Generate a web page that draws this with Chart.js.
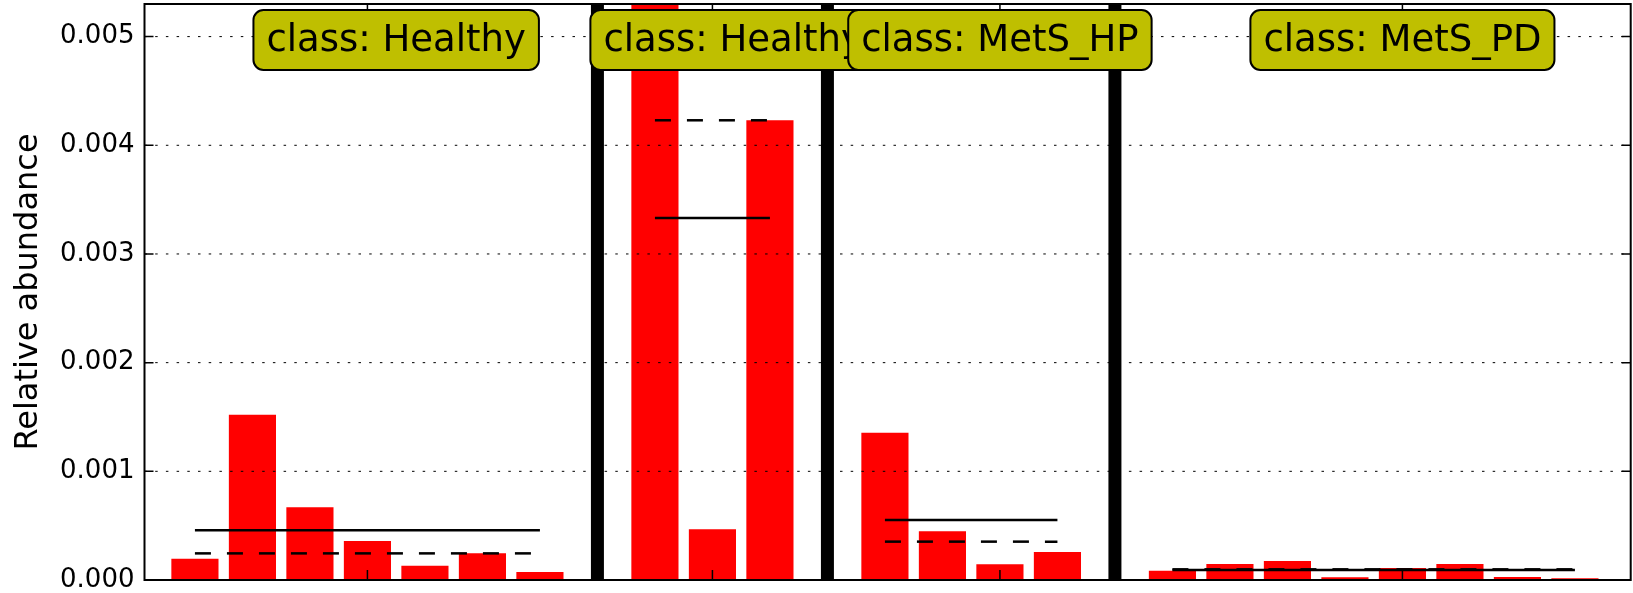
<!DOCTYPE html>
<html>
<head>
<meta charset="utf-8">
<script src="https://cdn.jsdelivr.net/npm/chart.js@4.4.1/dist/chart.umd.min.js"></script>
<style>
html,body{margin:0;padding:0;background:#ffffff;}
#wrap{width:1633px;height:593px;position:relative;}
</style>
</head>
<body>
<div id="wrap"><canvas id="c" width="1633" height="593"></canvas></div>
<script>
// ---- data ----
const classLabels = ['Healthy', 'Healthy', 'MetS_HP', 'MetS_PD'];
const healthyA = [0.000196, 0.00152, 0.00067, 0.00036, 0.000132, 0.000245, 0.000074];
const healthyB = [0.0053, 0.000466, 0.00423];
const metsHP   = [0.001355, 0.000448, 0.000144, 0.000258];
const metsPD   = [0.000086, 0.000147, 0.000175, 0.000025, 0.00011, 0.000147, 0.000028, 0.000015];
const yTickLabels = ['0.000', '0.001', '0.002', '0.003', '0.004', '0.005'];
const yAxisTitle = 'Relative abundance';

// ---- layout constants ----
const Y_MAX = 0.0053;
const X_MIN = -0.877, X_MAX = 24.97;
const LABEL_CENTERS = [3.5, 9.36, 14.0, 21.0];   // class-box centres in slot units

const groups = [healthyA, healthyB, metsHP, metsPD];
const starts = [];
let pos = 0;
groups.forEach(g => { starts.push(pos); pos += g.length + 1; });
const separators = starts.slice(1).map(s => s - 1);
const panelTicks = groups.map((g, k) => starts[k] + Math.floor(g.length / 2));

const barData = [];
groups.forEach((g, k) => g.forEach((v, i) => barData.push({ x: starts[k] + i, y: v })));

function mean(a) { return a.reduce((s, v) => s + v, 0) / a.length; }
function median(a) { const s = [...a].sort((p, q) => p - q); const m = Math.floor(s.length / 2); return s.length % 2 ? s[m] : (s[m - 1] + s[m]) / 2; }

const datasets = [{
  type: 'bar',
  data: barData,
  backgroundColor: '#ff0000',
  borderWidth: 0,
  barPercentage: 0.82,
  categoryPercentage: 1.0,
  order: 3
}];
groups.forEach((g, k) => {
  const x0 = starts[k], x1 = starts[k] + g.length - 1;
  datasets.push({
    type: 'line', data: [{ x: x0, y: mean(g) }, { x: x1, y: mean(g) }],
    borderColor: '#000', borderWidth: 2.5, pointRadius: 0, fill: false, order: 2
  });
  datasets.push({
    type: 'line', data: [{ x: x0, y: median(g) }, { x: x1, y: median(g) }],
    borderColor: '#000', borderWidth: 2.5, borderDash: [16, 16], pointRadius: 0, fill: false, order: 2
  });
});
separators.forEach(s => {
  datasets.push({
    type: 'line', data: [{ x: s, y: 0 }, { x: s, y: Y_MAX }],
    borderColor: '#000', borderWidth: 13, pointRadius: 0, fill: false, order: 1, borderCapStyle: 'butt'
  });
});

function roundRectPath(ctx, x, y, w, h, r) {
  ctx.beginPath();
  ctx.moveTo(x + r, y);
  ctx.lineTo(x + w - r, y);
  ctx.arcTo(x + w, y, x + w, y + r, r);
  ctx.lineTo(x + w, y + h - r);
  ctx.arcTo(x + w, y + h, x + w - r, y + h, r);
  ctx.lineTo(x + r, y + h);
  ctx.arcTo(x, y + h, x, y + h - r, r);
  ctx.lineTo(x, y + r);
  ctx.arcTo(x, y, x + r, y, r);
  ctx.closePath();
}

const overlay = {
  id: 'overlay',
  afterDatasetDraw(chart, args) {
    if (args.index !== 0) return;
    const { ctx, chartArea: a, scales: { y } } = chart;
    ctx.save();
    ctx.strokeStyle = '#000';
    ctx.lineWidth = 1;
    ctx.setLineDash([2.5, 8.2]);
    y.ticks.forEach(t => {
      const py = y.getPixelForValue(t.value);
      ctx.beginPath(); ctx.moveTo(a.left, py); ctx.lineTo(a.right, py); ctx.stroke();
    });
    ctx.restore();
  },
  afterDraw(chart) {
    const { ctx, chartArea: a, scales: { x, y } } = chart;
    ctx.save();
    // frame
    ctx.strokeStyle = '#000';
    ctx.lineWidth = 2;
    ctx.setLineDash([]);
    ctx.strokeRect(a.left, a.top, a.right - a.left, a.bottom - a.top);
    // inward y ticks, both sides
    ctx.lineWidth = 1.5;
    y.ticks.forEach(t => {
      const py = y.getPixelForValue(t.value);
      ctx.beginPath();
      ctx.moveTo(a.left, py); ctx.lineTo(a.left + 9, py);
      ctx.moveTo(a.right, py); ctx.lineTo(a.right - 9, py);
      ctx.stroke();
    });
    // panel ticks, bottom and top
    panelTicks.forEach(t => {
      const px = x.getPixelForValue(t);
      ctx.beginPath();
      ctx.moveTo(px, a.bottom); ctx.lineTo(px, a.bottom - 10);
      ctx.moveTo(px, a.top); ctx.lineTo(px, a.top + 10);
      ctx.stroke();
    });
    // class boxes
    ctx.font = '37px "DejaVu Sans"';
    classLabels.forEach((c, k) => {
      const txt = 'class: ' + c;
      const tw = ctx.measureText(txt).width;
      const w = tw + 26, h = 60;
      const cx = x.getPixelForValue(LABEL_CENTERS[k]);
      const bx = cx - w / 2, by = 10;
      roundRectPath(ctx, bx, by, w, h, 10);
      ctx.fillStyle = '#bfbf00';
      ctx.fill();
      ctx.lineWidth = 2;
      ctx.strokeStyle = '#000';
      ctx.stroke();
      ctx.fillStyle = '#000';
      ctx.textAlign = 'center';
      ctx.textBaseline = 'alphabetic';
      ctx.fillText(txt, cx, 51);
    });
    ctx.restore();
  }
};

new Chart(document.getElementById('c'), {
  type: 'bar',
  data: { datasets },
  options: {
    responsive: false,
    animation: false,
    devicePixelRatio: 1,
    events: [],
    layout: { padding: { left: 0, right: 2.3, top: 4, bottom: 13 } },
    plugins: { legend: { display: false }, tooltip: { enabled: false }, title: { display: false } },
    scales: {
      x: {
        type: 'linear', min: X_MIN, max: X_MAX, display: false, offset: false,
        ticks: { stepSize: 1, includeBounds: false },
        grid: { display: false }
      },
      y: {
        type: 'linear', position: 'left', min: 0, max: Y_MAX,
        ticks: {
          stepSize: 0.001, includeBounds: false, padding: 10, color: '#000',
          font: { family: 'DejaVu Sans', size: 26 },
          callback: (v, i) => (yTickLabels[i] !== undefined ? yTickLabels[i] : v.toFixed(3))
        },
        grid: { display: false, drawTicks: false },
        border: { display: false },
        title: {
          display: true, text: yAxisTitle, color: '#000',
          font: { family: 'DejaVu Sans', size: 32 },
          padding: { top: 9, bottom: 0 }
        },
        afterFit: s => { s.width = 144.5; s.paddingTop = 0; s.paddingBottom = 0; }
      }
    }
  },
  plugins: [overlay]
});
</script>
</body>
</html>
